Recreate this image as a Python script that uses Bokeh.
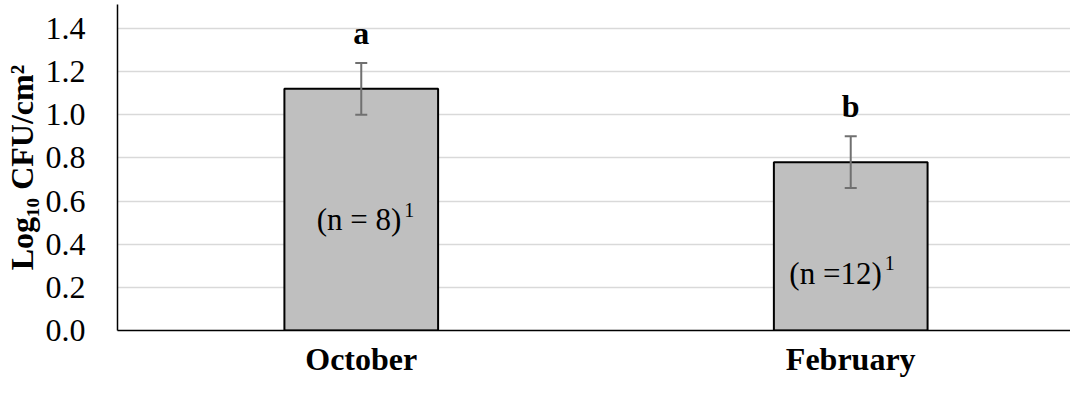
from bokeh.plotting import figure
from bokeh.models import (ColumnDataSource, Range1d, FixedTicker, PrintfTickFormatter,
                          Whisker, TeeHead)
from bokeh.embed import file_html
from bokeh.resources import INLINE
from bokeh.core.properties import value

# ---- data ----
months = ["October", "February"]
means = [1.12, 0.78]
err_lower = [1.00, 0.66]
err_upper = [1.24, 0.90]
sig_letters = ["a", "b"]
n_texts = ["(n = 8)", "(n =12)"]
n_sup = ["1", "1"]
y_ticks = [0.0, 0.2, 0.4, 0.6, 0.8, 1.0, 1.2, 1.4]
y_title = "Log₁₀ CFU/cm²"

# ---- layout of the n-labels (baseline height, right-edge offset in px) ----
n_label_base = [0.513, 0.266]
n_label_right = [40, 31]

FONT = "Liberation Serif"

X_START, X_END = -0.498, 1.449
Y_START, Y_END = 0.0, 1.511

x_idx = list(range(len(months)))
src = ColumnDataSource(dict(
    x=x_idx, mean=means, lower=err_lower, upper=err_upper,
    letter=sig_letters, ntext=n_texts, nsup=n_sup,
    ny=n_label_base, nx_off=n_label_right,
    sup_off=[r + 3 for r in n_label_right]))

p = figure(width=1070, height=379, output_backend="svg", toolbar_location=None,
           x_range=Range1d(X_START, X_END), y_range=Range1d(Y_START, Y_END),
           min_border_left=116, min_border_right=0, min_border_top=4, min_border_bottom=49)
p.outline_line_color = None
p.background_fill_color = "white"
p.border_fill_color = "white"

# gridlines
p.xgrid.visible = False
p.ygrid.ticker = FixedTicker(ticks=y_ticks[1:])
p.ygrid.grid_line_color = "#d9d9d9"
p.ygrid.grid_line_width = 1.5

# bars
p.vbar(x="x", top="mean", bottom=0, width=0.314, source=src,
       fill_color="#bfbfbf", line_color="black", line_width=2)

# error bars
eb_col = "#707070"
wh = Whisker(base="x", lower="lower", upper="upper", source=src,
             line_color=eb_col, line_width=2, level="overlay",
             upper_head=TeeHead(size=12, line_color=eb_col, line_width=2),
             lower_head=TeeHead(size=12, line_color=eb_col, line_width=2))
p.add_layout(wh)

# significance letters
p.text(x="x", y="upper", text="letter", source=src, y_offset=-30,
       text_align="center", text_baseline="alphabetic",
       text_font=value(FONT), text_font_style="bold", text_font_size="32px",
       text_color="black")

# n labels with superscript
p.text(x="x", y="ny", text="ntext", source=src, x_offset="nx_off",
       text_align="right", text_baseline="alphabetic",
       text_font=value(FONT), text_font_size="31px", text_color="black")
p.text(x="x", y="ny", text="nsup", source=src, x_offset="sup_off", y_offset=-10,
       text_align="left", text_baseline="alphabetic",
       text_font=value(FONT), text_font_size="20px", text_color="black")

# x axis
p.xaxis.ticker = FixedTicker(ticks=x_idx)
p.xaxis.major_label_overrides = {i: m for i, m in zip(x_idx, months)}
p.xaxis.major_tick_line_color = None
p.xaxis.minor_tick_line_color = None
p.xaxis.axis_line_color = "black"
p.xaxis.axis_line_width = 1.5
p.xaxis.major_label_text_font = FONT
p.xaxis.major_label_text_font_style = "bold"
p.xaxis.major_label_text_font_size = "32px"
p.xaxis.major_label_text_color = "black"
p.xaxis.major_label_standoff = 4

# y axis
p.yaxis.ticker = FixedTicker(ticks=y_ticks)
p.yaxis.formatter = PrintfTickFormatter(format="%.1f")
p.yaxis.major_tick_line_color = None
p.yaxis.minor_tick_line_color = None
p.yaxis.axis_line_color = "black"
p.yaxis.axis_line_width = 1.5
p.yaxis.major_label_text_font = FONT
p.yaxis.major_label_text_font_size = "32px"
p.yaxis.major_label_text_color = "black"
p.yaxis.major_label_standoff = 26
p.yaxis.axis_label = y_title
p.yaxis.axis_label_text_font = FONT
p.yaxis.axis_label_text_font_style = "bold"
p.yaxis.axis_label_text_font_size = "32px"
p.yaxis.axis_label_text_color = "black"
p.yaxis.axis_label_standoff = 3

open("out.html", "w").write(file_html(p, INLINE))
